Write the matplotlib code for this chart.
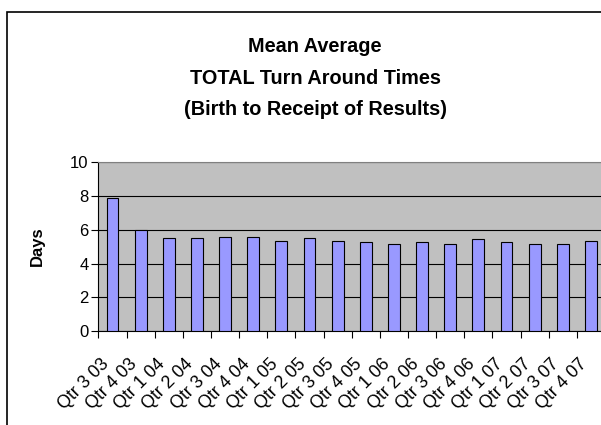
import numpy as np
import matplotlib.pyplot as plt
from matplotlib.patches import Rectangle

# quarter labels and mean turn around days
quarters = ['Qtr 3 03', 'Qtr 4 03', 'Qtr 1 04', 'Qtr 2 04', 'Qtr 3 04', 'Qtr 4 04',
            'Qtr 1 05', 'Qtr 2 05', 'Qtr 3 05', 'Qtr 4 05', 'Qtr 1 06', 'Qtr 2 06',
            'Qtr 3 06', 'Qtr 4 06', 'Qtr 1 07', 'Qtr 2 07', 'Qtr 3 07', 'Qtr 4 07']
days = [7.9, 6.0, 5.5, 5.5, 5.6, 5.6,
        5.35, 5.5, 5.35, 5.25, 5.17, 5.25,
        5.17, 5.43, 5.25, 5.17, 5.17, 5.35]

title_lines = ['Mean Average', 'TOTAL Turn Around Times', '(Birth to Receipt of Results)']

plt.rcParams['font.family'] = ['Liberation Sans', 'DejaVu Sans']

fig = plt.figure(figsize=(6.01, 4.25), dpi=100)

# chart area border (cut off on the right and bottom like the original)
fig.patches.append(Rectangle((7 / 601, -0.1), 1.2, 1 - 12 / 425 + 0.1,
                             transform=fig.transFigure, fill=False,
                             edgecolor='black', linewidth=1.2))

ax = fig.add_axes([98.4 / 601, 1 - 331 / 425, 506.6 / 601, 168.7 / 425])
x = np.arange(len(quarters))
ax.bar(x, days, width=0.42, color='#9999FF', edgecolor='black', linewidth=0.8, zorder=3)

ax.set_facecolor('#C0C0C0')
ax.set_xlim(-0.5, len(quarters) - 0.5)
ax.set_ylim(0, 10)
ax.set_yticks([0, 2, 4, 6, 8, 10])
ax.yaxis.grid(True, color='black', linewidth=0.8)
ax.set_axisbelow(True)

ax.set_xticks(x)
ax.set_xticklabels(quarters, rotation=45, ha='right', va='top', fontsize=12.8)
ax.set_xticks(np.arange(len(quarters) + 1) - 0.5, minor=True)
ax.tick_params(axis='x', which='major', length=0, pad=18)
ax.tick_params(axis='x', which='minor', length=5, width=0.8, direction='out')
ax.tick_params(axis='y', length=5, width=0.8, labelsize=12, pad=2)

ax.spines['right'].set_visible(False)
ax.spines['top'].set_color('#808080')
ax.spines['left'].set_linewidth(0.8)
ax.spines['bottom'].set_linewidth(0.8)

ax.set_ylabel('Days', fontsize=12, fontweight='bold', labelpad=18)

for line, base in zip(title_lines, [52, 83.5, 115]):
    fig.text(315 / 601, 1 - base / 425, line, ha='center', va='baseline',
             fontsize=14.3, fontweight='bold')

fig.savefig('out.png', dpi=100)
